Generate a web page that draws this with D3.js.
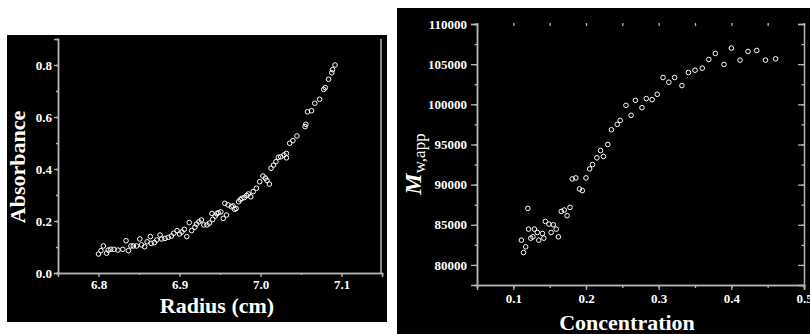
<!DOCTYPE html>
<html>
<head>
<meta charset="utf-8">
<script src="https://cdn.jsdelivr.net/npm/d3@7"></script>
<style>
  body { margin: 0; background: #fff; }
  svg { display: block; }
  .tick text { font-family: "Liberation Serif", "DejaVu Serif", serif; font-weight: bold; font-size: 13px; fill: #fff; }
</style>
</head>
<body>
<div id="chart"></div>
<script>
// ---- data ----
const radius = [6.800, 6.803, 6.806, 6.810, 6.812, 6.815, 6.819, 6.824, 6.830, 6.834,
  6.837, 6.840, 6.843, 6.847, 6.851, 6.853, 6.857, 6.860, 6.864, 6.865,
  6.869, 6.872, 6.876, 6.878, 6.882, 6.886, 6.890, 6.893, 6.897, 6.900,
  6.903, 6.906, 6.909, 6.912, 6.915, 6.919, 6.921, 6.924, 6.927, 6.930,
  6.934, 6.937, 6.940, 6.941, 6.944, 6.946, 6.948, 6.951, 6.954, 6.956,
  6.958, 6.960, 6.964, 6.966, 6.968, 6.970, 6.973, 6.975, 6.977, 6.980,
  6.983, 6.985, 6.988, 6.991, 6.995, 6.999, 7.003, 7.006, 7.008, 7.011,
  7.013, 7.016, 7.019, 7.022, 7.025, 7.029, 7.032, 7.032, 7.036, 7.040,
  7.045, 7.055, 7.056, 7.058, 7.063, 7.067, 7.073, 7.078, 7.080, 7.084,
  7.088, 7.089, 7.092];
const absorbance = [0.073, 0.086, 0.104, 0.076, 0.088, 0.091, 0.091, 0.088, 0.091, 0.124,
  0.086, 0.104, 0.104, 0.104, 0.131, 0.108, 0.101, 0.120, 0.140, 0.114,
  0.117, 0.127, 0.146, 0.131, 0.133, 0.137, 0.142, 0.153, 0.163, 0.150,
  0.158, 0.168, 0.140, 0.194, 0.163, 0.176, 0.188, 0.197, 0.204, 0.185,
  0.185, 0.192, 0.229, 0.206, 0.219, 0.228, 0.232, 0.235, 0.210, 0.268,
  0.223, 0.262, 0.255, 0.258, 0.245, 0.248, 0.274, 0.282, 0.287, 0.290,
  0.298, 0.304, 0.293, 0.313, 0.326, 0.351, 0.373, 0.365, 0.356, 0.342,
  0.403, 0.415, 0.428, 0.445, 0.447, 0.454, 0.460, 0.443, 0.499, 0.509,
  0.527, 0.563, 0.572, 0.620, 0.624, 0.653, 0.668, 0.706, 0.713, 0.745,
  0.770, 0.782, 0.800];

const concentration = [0.111, 0.114, 0.117, 0.120, 0.121, 0.124, 0.127, 0.129, 0.133, 0.135,
  0.140, 0.142, 0.144, 0.149, 0.152, 0.155, 0.159, 0.162, 0.166, 0.170,
  0.174, 0.178, 0.181, 0.186, 0.191, 0.195, 0.200, 0.205, 0.209, 0.215,
  0.220, 0.224, 0.230, 0.235, 0.243, 0.247, 0.255, 0.262, 0.268, 0.277,
  0.283, 0.291, 0.298, 0.306, 0.314, 0.322, 0.332, 0.341, 0.350, 0.360,
  0.369, 0.378, 0.390, 0.400, 0.412, 0.423, 0.435, 0.447, 0.461];
const mwApp = [83083, 81542, 82250, 87042, 84458, 83333, 83500, 84458, 84042, 83083,
  83917, 83333, 85417, 85083, 84042, 85000, 84458, 83500, 86667, 86833,
  86125, 87167, 90708, 90833, 89458, 89250, 90833, 91958, 92500, 93333,
  94250, 93500, 95000, 96833, 97500, 98000, 99875, 98625, 100500, 99583,
  100708, 100583, 101250, 103333, 102750, 103333, 102333, 103958, 104250, 104500,
  105583, 106333, 104958, 107000, 105500, 106583, 106708, 105500, 105667];

const leftXTicks = [6.8, 6.9, 7.0, 7.1];
const leftYTicks = [0.0, 0.2, 0.4, 0.6, 0.8];
const rightXTicks = [0.1, 0.2, 0.3, 0.4, 0.5];
const rightYTicks = [80000, 85000, 90000, 95000, 100000, 105000, 110000];

// ---- drawing ----
const W = 810, H = 334;
const axisColor = '#b4b4b4';
const svg = d3.select('#chart').append('svg').attr('width', W).attr('height', H);

// black panels
svg.append('rect').attr('x', 7).attr('y', 35).attr('width', 380).attr('height', 287).attr('fill', '#000');
svg.append('rect').attr('x', 397).attr('y', 8).attr('width', 413).attr('height', 326).attr('fill', '#000');

function styleAxis(g, hideText) {
  g.selectAll('path.domain').attr('stroke', axisColor).attr('stroke-width', 1.5);
  g.selectAll('.tick line').attr('stroke', axisColor).attr('stroke-width', 1.3);
  if (hideText) g.selectAll('.tick text').remove();
}

function range(a, b, step) {
  const out = [];
  for (let v = a; v <= b + step / 10; v += step) out.push(+v.toFixed(6));
  return out;
}

// ---------- left panel ----------
const x1 = d3.scaleLinear().domain([6.75, 7.15]).range([58, 382]);
const y1 = d3.scaleLinear().domain([0, 0.9]).range([273, 39]);

svg.append('g').attr('transform', 'translate(0,273)')
  .call(d3.axisBottom(x1).tickValues(range(6.75, 7.15, 0.05)).tickSize(2).tickFormat(''))
  .call(g => styleAxis(g, true));
svg.append('g').attr('transform', 'translate(0,273)')
  .call(d3.axisBottom(x1).tickValues(leftXTicks).tickSize(4).tickPadding(3).tickFormat(d3.format('.1f')))
  .call(g => styleAxis(g));
svg.append('g').attr('transform', 'translate(58,0)')
  .call(d3.axisLeft(y1).tickValues(range(0, 0.8, 0.1)).tickSize(2).tickFormat(''))
  .call(g => styleAxis(g, true));
svg.append('g').attr('transform', 'translate(58,0)')
  .call(d3.axisLeft(y1).tickValues(leftYTicks).tickSize(4).tickPadding(2).tickFormat(d3.format('.1f')))
  .call(g => styleAxis(g));
svg.append('line').attr('x1', 381).attr('x2', 381).attr('y1', 39).attr('y2', 273)
  .attr('stroke', axisColor).attr('stroke-width', 1.5);

svg.append('g').selectAll('circle')
  .data(radius.map((r, i) => [r, absorbance[i]]))
  .enter().append('circle')
  .attr('cx', d => x1(d[0]))
  .attr('cy', d => y1(d[1]))
  .attr('r', 2.3)
  .attr('fill', 'none')
  .attr('stroke', '#fff')
  .attr('stroke-width', 1);

svg.append('text').attr('x', 217).attr('y', 313)
  .attr('text-anchor', 'middle')
  .attr('font-family', '"Liberation Serif", serif').attr('font-weight', 'bold').attr('font-size', 22)
  .attr('fill', '#fff').text('Radius (cm)');
svg.append('text').attr('transform', 'translate(25,167) rotate(-90)')
  .attr('text-anchor', 'middle')
  .attr('font-family', '"Liberation Serif", serif').attr('font-weight', 'bold').attr('font-size', 22)
  .attr('fill', '#fff').text('Absorbance');

// ---------- right panel ----------
const x2 = d3.scaleLinear().domain([0.05, 0.5]).range([477, 804]);
const y2 = d3.scaleLinear().domain([77500, 110000]).range([285, 24]);

svg.append('g').attr('transform', 'translate(0,285)')
  .call(d3.axisBottom(x2).tickValues(range(0.05, 0.5, 0.05)).tickSize(3).tickFormat(''))
  .call(g => styleAxis(g, true));
svg.append('g').attr('transform', 'translate(0,285)')
  .call(d3.axisBottom(x2).tickValues(rightXTicks).tickSize(5).tickPadding(4).tickFormat(d3.format('.1f')))
  .call(g => styleAxis(g));
// top edge ticks (pointing inward, no line)
svg.append('g').attr('transform', 'translate(0,23)')
  .call(d3.axisBottom(x2).tickValues(range(0.05, 0.5, 0.05)).tickSize(3).tickFormat(''))
  .call(g => styleAxis(g, true))
  .call(g => g.select('path.domain').remove());

svg.append('g').attr('transform', 'translate(477,0)')
  .call(d3.axisLeft(y2).tickValues(range(77500, 110000, 2500)).tickSize(2.5).tickFormat(''))
  .call(g => styleAxis(g, true));
svg.append('g').attr('transform', 'translate(477,0)')
  .call(d3.axisLeft(y2).tickValues(rightYTicks).tickSize(6).tickPadding(4).tickFormat(d3.format('d')))
  .call(g => styleAxis(g));
// right edge with inward ticks
svg.append('g').attr('transform', 'translate(804,0)')
  .call(d3.axisLeft(y2).tickValues(range(77500, 110000, 2500)).tickSize(2.5).tickFormat(''))
  .call(g => styleAxis(g, true))
  .call(g => g.select('path.domain').remove());
svg.append('g').attr('transform', 'translate(804,0)')
  .call(d3.axisLeft(y2).tickValues(rightYTicks).tickSize(6).tickFormat(''))
  .call(g => styleAxis(g, true));

svg.append('g').selectAll('circle')
  .data(concentration.map((c, i) => [c, mwApp[i]]))
  .enter().append('circle')
  .attr('cx', d => x2(d[0]))
  .attr('cy', d => y2(d[1]))
  .attr('r', 2.3)
  .attr('fill', 'none')
  .attr('stroke', '#fff')
  .attr('stroke-width', 1);

svg.append('text').attr('x', 627).attr('y', 330)
  .attr('text-anchor', 'middle')
  .attr('font-family', '"Liberation Serif", serif').attr('font-weight', 'bold').attr('font-size', 22)
  .attr('fill', '#fff').text('Concentration');

const yl = svg.append('text').attr('transform', 'translate(421,164) rotate(-90)')
  .attr('text-anchor', 'middle')
  .attr('font-family', '"Liberation Serif", serif')
  .attr('fill', '#fff');
yl.append('tspan').attr('font-style', 'italic').attr('font-weight', 'bold').attr('font-size', 24).text('M');
yl.append('tspan').attr('font-size', 17).attr('dy', 4).text('w,app');
</script>
</body>
</html>
